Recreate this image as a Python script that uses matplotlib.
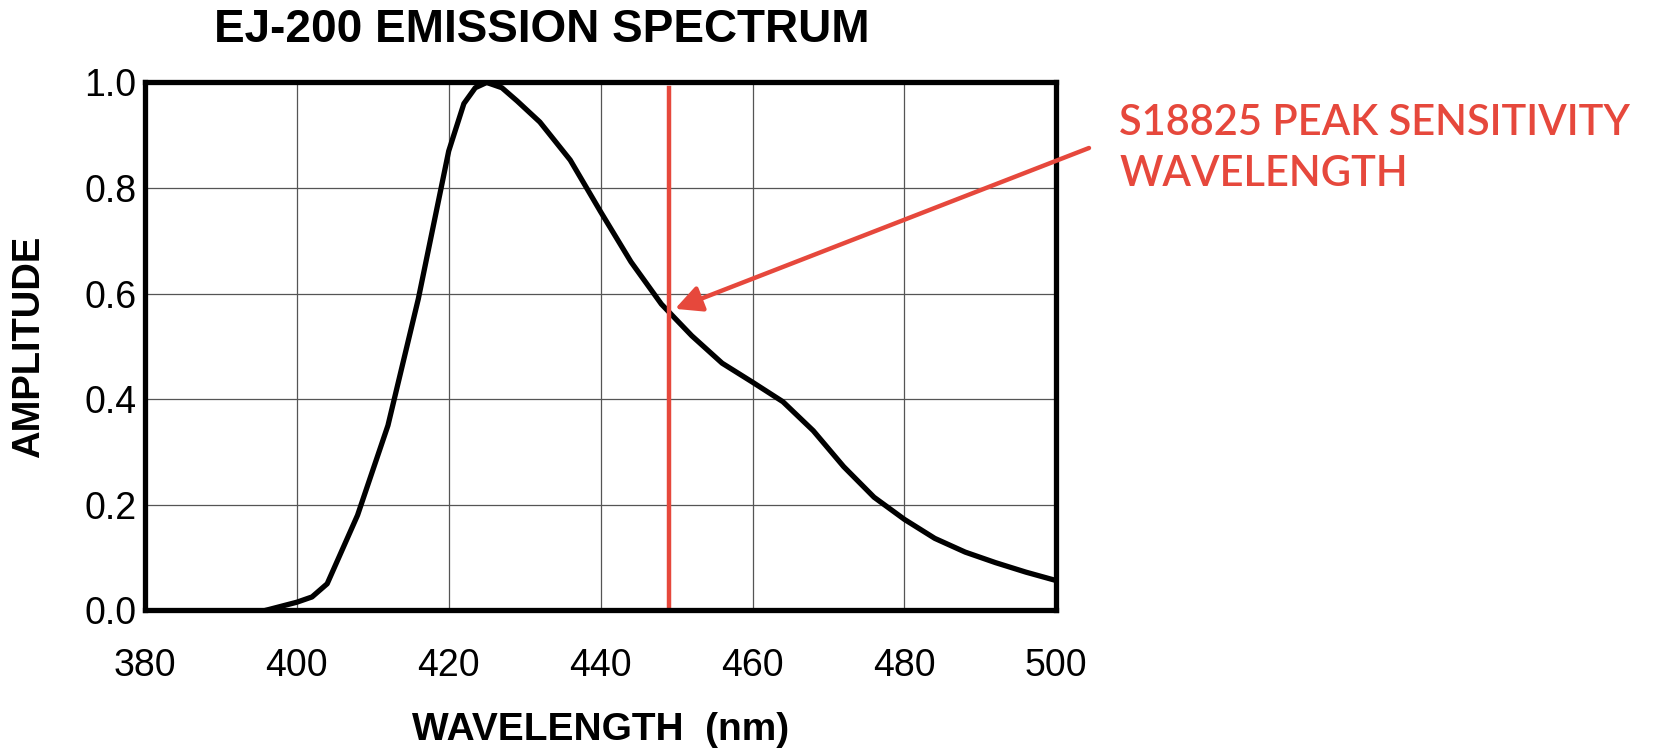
import matplotlib
matplotlib.use("Agg")
import matplotlib.pyplot as plt

# EJ-200 emission spectrum
wavelength = [396, 400, 402, 404, 408, 412, 416, 420, 422, 423.5, 425, 427, 429,
              432, 436, 440, 444, 448, 452, 456, 460, 464, 468, 472, 476, 480,
              484, 488, 492, 496, 500]
amplitude = [0.0, 0.015, 0.025, 0.05, 0.18, 0.35, 0.59, 0.87, 0.96, 0.99, 1.0,
             0.99, 0.965, 0.925, 0.853, 0.755, 0.66, 0.58, 0.52, 0.468, 0.432,
             0.395, 0.34, 0.272, 0.214, 0.172, 0.136, 0.11, 0.09, 0.072, 0.056]

peak_wavelength = 449  # S18825 peak sensitivity
arrow_tip = (449.8, 0.571)

x_ticks = [380, 400, 420, 440, 460, 480, 500]
y_ticks = [0.0, 0.2, 0.4, 0.6, 0.8, 1.0]

red = "#e6483c"
sans = ["Liberation Sans", "DejaVu Sans"]
note_font = ["Lato", "DejaVu Sans"]

fig = plt.figure(figsize=(16.58, 7.49), dpi=100)
ax = fig.add_axes([0.0874, 0.1854, 0.5497, 0.7045])

ax.plot(wavelength, amplitude, color="black", lw=3.8, solid_joinstyle="round", zorder=3)
ax.plot([peak_wavelength, peak_wavelength], [0, 0.99], color=red, lw=3.2, zorder=4)

ax.set_xlim(380, 500)
ax.set_ylim(0, 1)
ax.set_xticks(x_ticks)
ax.set_yticks(y_ticks)
ax.set_yticklabels([f"{v:.1f}" for v in y_ticks])
ax.tick_params(axis="both", length=0, labelsize=27)
ax.tick_params(axis="x", pad=27)
ax.tick_params(axis="y", pad=6)
for lab in ax.get_xticklabels() + ax.get_yticklabels():
    lab.set_family(sans)

ax.grid(True, color="#555555", lw=0.9)
for sp in ax.spines.values():
    sp.set_linewidth(3.8)
    sp.set_color("black")
    sp.set_zorder(5)

fig.text(0.3269, 0.9435, "EJ-200 EMISSION SPECTRUM", ha="center", va="baseline",
         fontsize=33, fontweight="bold", family=sans)
fig.text(0.3622, 0.012, "WAVELENGTH  (nm)", ha="center", va="baseline",
         fontsize=28, fontweight="bold", family=sans)
fig.text(0.0175, 0.537, "AMPLITUDE", ha="center", va="center", rotation=90,
         fontsize=27.5, fontweight="bold", family=sans)

fig.text(0.675, 0.8194, "S18825 PEAK SENSITIVITY", ha="left", va="baseline",
         fontsize=30, fontweight="semibold", color=red, family=note_font)
fig.text(0.675, 0.7517, "WAVELENGTH", ha="left", va="baseline",
         fontsize=30, fontweight="semibold", color=red, family=note_font)

ax.annotate("", xy=arrow_tip, xycoords="data",
            xytext=(1089 / 1658, 1 - 148 / 749), textcoords="figure fraction",
            annotation_clip=False,
            arrowprops=dict(arrowstyle="-|>", color=red, lw=3.2,
                            mutation_scale=40, shrinkA=0, shrinkB=0),
            zorder=6)

fig.savefig("out.png", dpi=100, facecolor="white")
